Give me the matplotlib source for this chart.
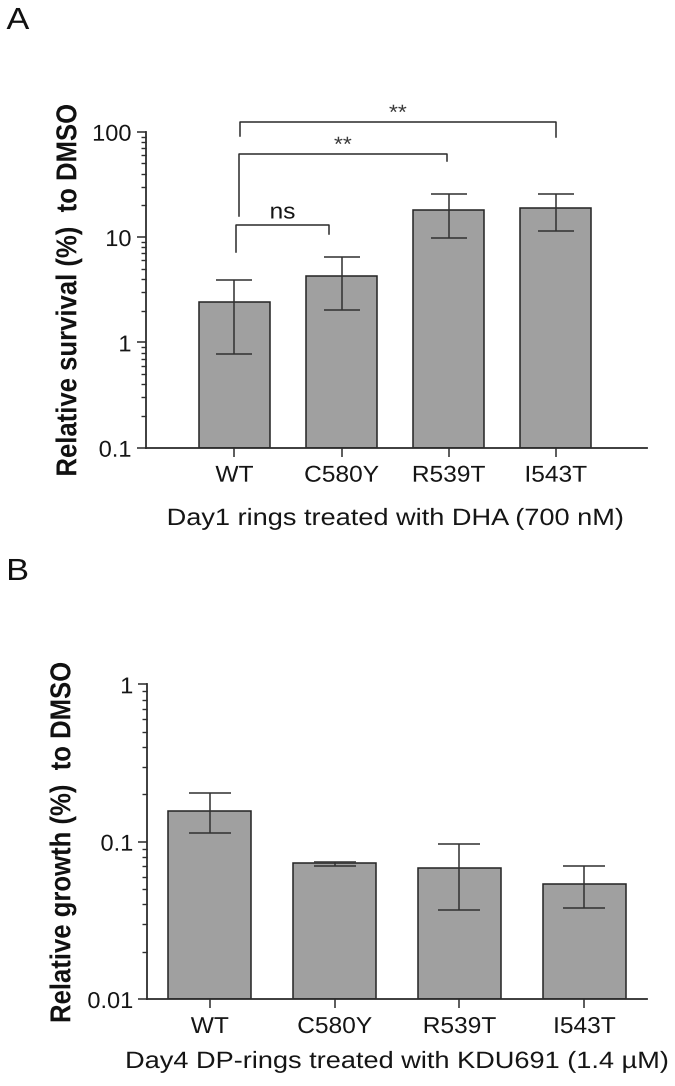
import matplotlib
matplotlib.use('Agg')
import numpy as np
import matplotlib.pyplot as plt
from matplotlib.ticker import LogLocator, FuncFormatter, NullFormatter, FixedLocator
from matplotlib.patheffects import AbstractPathEffect
from matplotlib.transforms import Affine2D

plt.rcParams['font.family'] = ['Liberation Sans', 'DejaVu Sans']

# ---------------- data ----------------
strains = ['WT', 'C580Y', 'R539T', 'I543T']

surv_mean = [2.40, 4.27, 18.0, 19.0]
surv_upper = [3.94, 6.5, 25.5, 25.7]
surv_lower = [0.78, 2.05, 9.8, 11.5]

growth_mean = [0.157, 0.073, 0.0678, 0.0542]
growth_upper = [0.203, 0.0740, 0.0973, 0.0702]
growth_lower = [0.113, 0.0700, 0.0366, 0.0379]

yticksA = [0.1, 1, 10, 100]
yticksB = [0.01, 0.1, 1]

# significance comparisons (panel A)
comp_pairs = [(0, 1), (0, 2), (0, 3)]
comp_labels = ['ns', '**', '**']
comp_top = [13.1, 62.0, 123.0]
comp_left_end = [7.27, 15.9, 91.2]
comp_right_end = [10.7, 53.1, 89.7]
comp_text_y = [15.0, 65.5, 131.8]

labA_y = 'Relative survival (%)  to DMSO'
labA_x = 'Day1 rings treated with DHA (700 nM)'
labB_y = 'Relative growth (%)  to DMSO'
labB_x = 'Day4 DP-rings treated with KDU691 (1.4 \u00b5M)'


class Stretch(AbstractPathEffect):
    """Scale glyph outlines (the reference text is slightly widened)."""

    def __init__(self, sx=1.0, sy=1.0, anchor='center'):
        super().__init__()
        self.sx, self.sy, self.anchor = sx, sy, anchor

    def draw_path(self, renderer, gc, tpath, affine, rgbFace=None):
        ext = tpath.get_extents()
        if self.anchor == 'left':
            x0 = ext.x0
        elif self.anchor == 'right':
            x0 = ext.x1
        else:
            x0 = 0.5 * (ext.x0 + ext.x1)
        y0 = 0.5 * (ext.y0 + ext.y1)
        t = Affine2D().translate(-x0, -y0).scale(self.sx, self.sy).translate(x0, y0)
        renderer.draw_path(gc, tpath, t + affine, rgbFace)


# ---------------- figure ----------------
W, H = 675, 1086
fig = plt.figure(figsize=(W / 100, H / 100), dpi=100)


def px_axes(left, right, top, bottom):
    return fig.add_axes([left / W, 1 - bottom / H, (right - left) / W, (bottom - top) / H])


axA = px_axes(145.5, 647.3, 131.7, 447.7)
axB = px_axes(147.3, 647.3, 684.3, 999.0)

LINE = '#2e2e2e'
BAR = '#a0a0a0'
TXT = '#151515'


def style(ax, ylim, xlim, yticks):
    ax.set_yscale('log')
    ax.set_ylim(ylim)
    ax.set_xlim(xlim)
    for s in ['top', 'right']:
        ax.spines[s].set_visible(False)
    for s in ['left', 'bottom']:
        ax.spines[s].set_color(LINE)
        ax.spines[s].set_linewidth(1.3)
    ax.yaxis.set_major_locator(FixedLocator(yticks))
    ax.yaxis.set_minor_locator(LogLocator(base=10, subs=range(2, 10), numticks=10))
    ax.yaxis.set_major_formatter(FuncFormatter(lambda v, p: f'{v:g}'))
    ax.yaxis.set_minor_formatter(NullFormatter())
    ax.tick_params(axis='both', which='major', length=6.5, width=1.1, color=LINE,
                   labelsize=16.5, labelcolor=TXT, direction='out')
    ax.tick_params(axis='y', which='major', pad=3.6)
    ax.tick_params(axis='x', which='major', pad=5.0)
    ax.tick_params(axis='y', which='minor', length=3.6, width=1.0, color=LINE, direction='out')
    ax.set_xticks(np.arange(len(strains)))
    ax.set_xticklabels(strains)


def draw_bars(ax, mean, lower, upper, base, capsize):
    x = np.arange(len(strains))
    mean = np.array(mean)
    ax.bar(x, mean - base, bottom=base, width=0.667, color=BAR, edgecolor='#262626',
           linewidth=1.1, zorder=2)
    yerr = [mean - np.array(lower), np.array(upper) - mean]
    ax.errorbar(x, mean, yerr=yerr, fmt='none', ecolor='#333333', elinewidth=1.1,
                capsize=capsize, capthick=1.1, zorder=3)


# Panel A
style(axA, (0.1, 100), (-0.83, 3.855), yticksA)
draw_bars(axA, surv_mean, surv_lower, surv_upper, 0.1, 13)
left_offsets = [0.019, 0.041, 0.053]
right_offsets = [-0.12, -0.015, 0.0]
for k, (i, j) in enumerate(comp_pairs):
    xl = i + left_offsets[k]
    xr = j + right_offsets[k]
    axA.plot([xl, xl, xr, xr], [comp_left_end[k], comp_top[k], comp_top[k], comp_right_end[k]],
             color=LINE, lw=1.1, clip_on=False, zorder=4)
    fs = 16 if comp_labels[k] == 'ns' else 15
    col = TXT if comp_labels[k] == 'ns' else '#3a3a3a'
    axA.text((xl + xr) / 2, comp_text_y[k], comp_labels[k], ha='center', va='baseline',
             fontsize=fs, color=col, clip_on=False,
             path_effects=[Stretch(sx=1.1)])

# Panel B
style(axB, (0.01, 1), (-0.5, 3.504), yticksB)
draw_bars(axB, growth_mean, growth_lower, growth_upper, 0.01, 15)

# labels
fig.text(68.5 / W, 1 - 289.7 / H, labA_y, rotation=90, ha='center', va='center',
         fontsize=18.5, fontweight='bold', color='#111111', path_effects=[Stretch(sy=1.12)])
fig.text(62.5 / W, 1 - 842.0 / H, labB_y, rotation=90, ha='center', va='center',
         fontsize=18.5, fontweight='bold', color='#111111', path_effects=[Stretch(sy=1.12)])
fig.text(396.0 / W, 1 - 525.0 / H, labA_x, ha='center', va='baseline', fontsize=17,
         color=TXT, path_effects=[Stretch(sx=1.15)])
fig.text(397.5 / W, 1 - 1068.0 / H, labB_x, ha='center', va='baseline', fontsize=17,
         color=TXT, path_effects=[Stretch(sx=1.15)])
fig.text(6.5 / W, 1 - 29.0 / H, 'A', ha='left', va='baseline', fontsize=22, color='#111111',
         path_effects=[Stretch(sx=1.12, anchor='left')])
fig.text(6.5 / W, 1 - 580.0 / H, 'B', ha='left', va='baseline', fontsize=22, color='#111111',
         path_effects=[Stretch(sx=1.12, anchor='left')])

fig.canvas.draw()
for ax in (axA, axB):
    for t in ax.get_xticklabels():
        t.set_path_effects([Stretch(sx=1.07)])
    for t in ax.get_yticklabels():
        t.set_path_effects([Stretch(sx=1.03, anchor='right')])

fig.savefig('out.png', dpi=100, facecolor='white')
